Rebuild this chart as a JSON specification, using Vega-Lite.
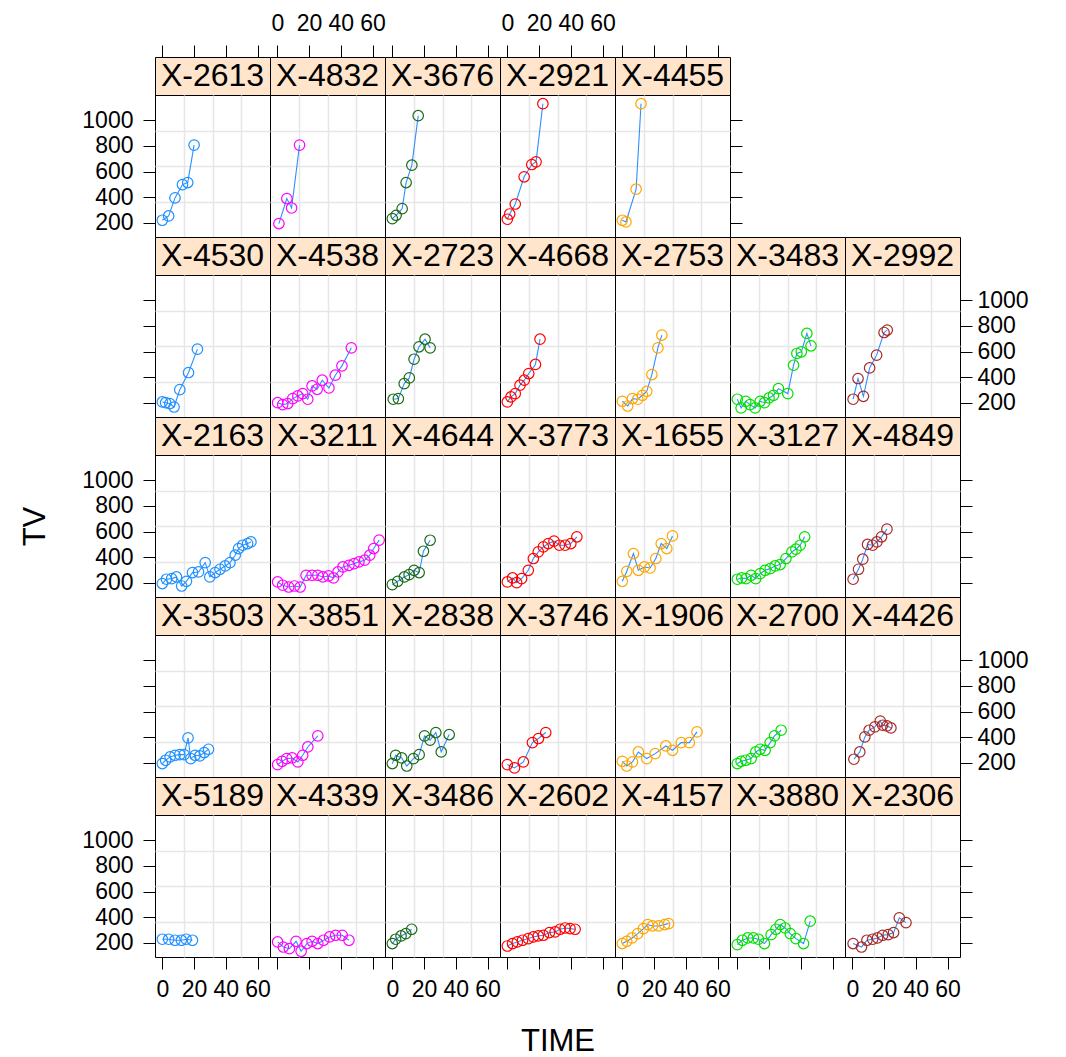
{
"$schema":"https://vega.github.io/schema/vega-lite/v6.json",
"padding":{"left":19,"top":11,"right":5,"bottom":0},
"background":"white",
"data":{"values":[
{"id":"X-2613","t":0,"tv":219},{"id":"X-2613","t":4,"tv":253},{"id":"X-2613","t":8,"tv":394},{"id":"X-2613","t":12.7,"tv":498},{"id":"X-2613","t":16,"tv":514},{"id":"X-2613","t":20,"tv":807},
{"id":"X-4832","t":1,"tv":193},{"id":"X-4832","t":6,"tv":389},{"id":"X-4832","t":9,"tv":315},{"id":"X-4832","t":14,"tv":807},
{"id":"X-3676","t":0,"tv":232},{"id":"X-3676","t":2.4,"tv":258},{"id":"X-3676","t":6.2,"tv":310},{"id":"X-3676","t":8.7,"tv":514},{"id":"X-3676","t":12.3,"tv":650},{"id":"X-3676","t":16.3,"tv":1037},
{"id":"X-2921","t":0,"tv":227},{"id":"X-2921","t":1.5,"tv":268},{"id":"X-2921","t":5,"tv":346},{"id":"X-2921","t":10.6,"tv":559},{"id":"X-2921","t":15.4,"tv":655},{"id":"X-2921","t":18.1,"tv":676},{"id":"X-2921","t":22.4,"tv":1131},
{"id":"X-4455","t":0,"tv":219},{"id":"X-4455","t":2.3,"tv":206},{"id":"X-4455","t":8.7,"tv":462},{"id":"X-4455","t":11.8,"tv":1131},
{"id":"X-4530","t":0,"tv":206},{"id":"X-4530","t":2.1,"tv":200},{"id":"X-4530","t":4.7,"tv":193},{"id":"X-4530","t":7.4,"tv":166},{"id":"X-4530","t":11,"tv":302},{"id":"X-4530","t":16.5,"tv":436},{"id":"X-4530","t":22.1,"tv":619},
{"id":"X-4538","t":0.2,"tv":200},{"id":"X-4538","t":3.4,"tv":185},{"id":"X-4538","t":6.6,"tv":193},{"id":"X-4538","t":9.7,"tv":232},{"id":"X-4538","t":12.9,"tv":253},{"id":"X-4538","t":16,"tv":271},{"id":"X-4538","t":19.2,"tv":227},{"id":"X-4538","t":21.9,"tv":331},{"id":"X-4538","t":25.1,"tv":305},{"id":"X-4538","t":28.3,"tv":376},{"id":"X-4538","t":32.5,"tv":315},{"id":"X-4538","t":36.5,"tv":415},{"id":"X-4538","t":40.7,"tv":488},{"id":"X-4538","t":46.6,"tv":629},
{"id":"X-2723","t":0.6,"tv":227},{"id":"X-2723","t":3.8,"tv":232},{"id":"X-2723","t":7.5,"tv":349},{"id":"X-2723","t":10.7,"tv":394},{"id":"X-2723","t":13.7,"tv":540},{"id":"X-2723","t":16.8,"tv":637},{"id":"X-2723","t":20.6,"tv":697},{"id":"X-2723","t":23.8,"tv":629},
{"id":"X-4668","t":0,"tv":206},{"id":"X-4668","t":2.3,"tv":245},{"id":"X-4668","t":5,"tv":271},{"id":"X-4668","t":8,"tv":337},{"id":"X-4668","t":10.7,"tv":376},{"id":"X-4668","t":13.5,"tv":428},{"id":"X-4668","t":17.7,"tv":499},{"id":"X-4668","t":20.6,"tv":697},
{"id":"X-2753","t":0,"tv":211},{"id":"X-2753","t":3.4,"tv":174},{"id":"X-2753","t":6.4,"tv":232},{"id":"X-2753","t":9.7,"tv":227},{"id":"X-2753","t":12.7,"tv":258},{"id":"X-2753","t":15.4,"tv":289},{"id":"X-2753","t":18.6,"tv":420},{"id":"X-2753","t":22.4,"tv":629},{"id":"X-2753","t":24.9,"tv":729},
{"id":"X-3483","t":0,"tv":227},{"id":"X-3483","t":2.4,"tv":159},{"id":"X-3483","t":5.3,"tv":211},{"id":"X-3483","t":8,"tv":185},{"id":"X-3483","t":11.2,"tv":159},{"id":"X-3483","t":14.4,"tv":211},{"id":"X-3483","t":17.1,"tv":200},{"id":"X-3483","t":20,"tv":237},{"id":"X-3483","t":22.8,"tv":258},{"id":"X-3483","t":25.9,"tv":310},{"id":"X-3483","t":31.8,"tv":271},{"id":"X-3483","t":35.4,"tv":493},{"id":"X-3483","t":37.5,"tv":585},{"id":"X-3483","t":40.3,"tv":598},{"id":"X-3483","t":43.8,"tv":742},{"id":"X-3483","t":46.4,"tv":645},
{"id":"X-2992","t":0.5,"tv":227},{"id":"X-2992","t":3.6,"tv":389},{"id":"X-2992","t":7,"tv":250},{"id":"X-2992","t":10.9,"tv":472},{"id":"X-2992","t":15.3,"tv":572},{"id":"X-2992","t":20,"tv":749},{"id":"X-2992","t":22,"tv":768},
{"id":"X-2163","t":0,"tv":193},{"id":"X-2163","t":2.6,"tv":227},{"id":"X-2163","t":5.9,"tv":232},{"id":"X-2163","t":8.9,"tv":245},{"id":"X-2163","t":12.2,"tv":174},{"id":"X-2163","t":15.2,"tv":211},{"id":"X-2163","t":19,"tv":279},{"id":"X-2163","t":22.8,"tv":284},{"id":"X-2163","t":27,"tv":357},{"id":"X-2163","t":29.9,"tv":245},{"id":"X-2163","t":33.3,"tv":279},{"id":"X-2163","t":36.3,"tv":305},{"id":"X-2163","t":39.6,"tv":331},{"id":"X-2163","t":42.6,"tv":357},{"id":"X-2163","t":45.9,"tv":415},{"id":"X-2163","t":48,"tv":467},{"id":"X-2163","t":50.6,"tv":493},{"id":"X-2163","t":53.7,"tv":506},{"id":"X-2163","t":55.8,"tv":519},
{"id":"X-3211","t":0.2,"tv":206},{"id":"X-3211","t":3.4,"tv":180},{"id":"X-3211","t":7.2,"tv":166},{"id":"X-3211","t":10.8,"tv":174},{"id":"X-3211","t":14.4,"tv":166},{"id":"X-3211","t":18.1,"tv":258},{"id":"X-3211","t":21.9,"tv":258},{"id":"X-3211","t":25.5,"tv":258},{"id":"X-3211","t":28.7,"tv":245},{"id":"X-3211","t":32.3,"tv":253},{"id":"X-3211","t":35.4,"tv":237},{"id":"X-3211","t":38.2,"tv":284},{"id":"X-3211","t":41.3,"tv":323},{"id":"X-3211","t":45.1,"tv":336},{"id":"X-3211","t":48.3,"tv":349},{"id":"X-3211","t":51.4,"tv":363},{"id":"X-3211","t":55,"tv":376},{"id":"X-3211","t":58.2,"tv":415},{"id":"X-3211","t":60.7,"tv":467},{"id":"X-3211","t":64.1,"tv":533},
{"id":"X-4644","t":0,"tv":185},{"id":"X-4644","t":3.4,"tv":211},{"id":"X-4644","t":7.6,"tv":245},{"id":"X-4644","t":10.6,"tv":263},{"id":"X-4644","t":13.7,"tv":297},{"id":"X-4644","t":16.9,"tv":279},{"id":"X-4644","t":19.6,"tv":446},{"id":"X-4644","t":23.8,"tv":532},
{"id":"X-3773","t":0,"tv":206},{"id":"X-3773","t":3.3,"tv":237},{"id":"X-3773","t":5.9,"tv":200},{"id":"X-3773","t":9,"tv":232},{"id":"X-3773","t":13.2,"tv":297},{"id":"X-3773","t":16.4,"tv":389},{"id":"X-3773","t":19.5,"tv":441},{"id":"X-3773","t":22.7,"tv":480},{"id":"X-3773","t":25.8,"tv":506},{"id":"X-3773","t":29.4,"tv":525},{"id":"X-3773","t":32.8,"tv":493},{"id":"X-3773","t":36.4,"tv":493},{"id":"X-3773","t":40,"tv":506},{"id":"X-3773","t":43.8,"tv":559},
{"id":"X-1655","t":0,"tv":211},{"id":"X-1655","t":2.8,"tv":289},{"id":"X-1655","t":7,"tv":428},{"id":"X-1655","t":10.1,"tv":297},{"id":"X-1655","t":13.9,"tv":323},{"id":"X-1655","t":17.5,"tv":315},{"id":"X-1655","t":21.1,"tv":389},{"id":"X-1655","t":24.5,"tv":506},{"id":"X-1655","t":28,"tv":467},{"id":"X-1655","t":31.6,"tv":566},
{"id":"X-3127","t":0,"tv":227},{"id":"X-3127","t":2.8,"tv":237},{"id":"X-3127","t":5.5,"tv":232},{"id":"X-3127","t":8.7,"tv":258},{"id":"X-3127","t":11.6,"tv":232},{"id":"X-3127","t":14.4,"tv":271},{"id":"X-3127","t":17.5,"tv":297},{"id":"X-3127","t":20.7,"tv":310},{"id":"X-3127","t":23.8,"tv":331},{"id":"X-3127","t":27,"tv":342},{"id":"X-3127","t":30.6,"tv":389},{"id":"X-3127","t":34.4,"tv":441},{"id":"X-3127","t":36.9,"tv":462},{"id":"X-3127","t":39.6,"tv":493},{"id":"X-3127","t":42.4,"tv":559},
{"id":"X-4849","t":0.5,"tv":227},{"id":"X-4849","t":3.9,"tv":305},{"id":"X-4849","t":6.6,"tv":384},{"id":"X-4849","t":9.6,"tv":499},{"id":"X-4849","t":12.8,"tv":493},{"id":"X-4849","t":15.5,"tv":519},{"id":"X-4849","t":18.4,"tv":559},{"id":"X-4849","t":21.8,"tv":619},
{"id":"X-3503","t":0,"tv":193},{"id":"X-3503","t":2.1,"tv":219},{"id":"X-3503","t":4.9,"tv":245},{"id":"X-3503","t":8,"tv":258},{"id":"X-3503","t":11,"tv":263},{"id":"X-3503","t":13.7,"tv":263},{"id":"X-3503","t":16.2,"tv":394},{"id":"X-3503","t":17.9,"tv":232},{"id":"X-3503","t":20.7,"tv":258},{"id":"X-3503","t":23.6,"tv":253},{"id":"X-3503","t":26.4,"tv":279},{"id":"X-3503","t":29.1,"tv":305},
{"id":"X-3851","t":0.2,"tv":185},{"id":"X-3851","t":3,"tv":211},{"id":"X-3851","t":5.9,"tv":232},{"id":"X-3851","t":9.3,"tv":237},{"id":"X-3851","t":12.9,"tv":206},{"id":"X-3851","t":16,"tv":258},{"id":"X-3851","t":19.2,"tv":323},{"id":"X-3851","t":25.5,"tv":410},
{"id":"X-2838","t":0,"tv":193},{"id":"X-2838","t":2.1,"tv":258},{"id":"X-2838","t":5.9,"tv":237},{"id":"X-2838","t":9.1,"tv":174},{"id":"X-2838","t":13.3,"tv":232},{"id":"X-2838","t":16.9,"tv":263},{"id":"X-2838","t":20.3,"tv":410},{"id":"X-2838","t":23.8,"tv":376},{"id":"X-2838","t":27.4,"tv":436},{"id":"X-2838","t":30.8,"tv":284},{"id":"X-2838","t":35.8,"tv":420},
{"id":"X-3746","t":0,"tv":185},{"id":"X-3746","t":4.5,"tv":159},{"id":"X-3746","t":10.1,"tv":206},{"id":"X-3746","t":15.8,"tv":357},{"id":"X-3746","t":19.6,"tv":389},{"id":"X-3746","t":24.2,"tv":436},
{"id":"X-1906","t":0,"tv":211},{"id":"X-1906","t":2.8,"tv":174},{"id":"X-1906","t":6.4,"tv":206},{"id":"X-1906","t":10.1,"tv":284},{"id":"X-1906","t":15.4,"tv":232},{"id":"X-1906","t":20.7,"tv":271},{"id":"X-1906","t":27.4,"tv":331},{"id":"X-1906","t":31.6,"tv":297},{"id":"X-1906","t":37.1,"tv":357},{"id":"X-1906","t":42.2,"tv":357},{"id":"X-1906","t":47,"tv":441},
{"id":"X-2700","t":0,"tv":193},{"id":"X-2700","t":2.4,"tv":211},{"id":"X-2700","t":5.3,"tv":219},{"id":"X-2700","t":8.7,"tv":232},{"id":"X-2700","t":11.6,"tv":284},{"id":"X-2700","t":14.4,"tv":305},{"id":"X-2700","t":17.5,"tv":297},{"id":"X-2700","t":20.7,"tv":357},{"id":"X-2700","t":23.4,"tv":410},{"id":"X-2700","t":27.6,"tv":454},
{"id":"X-4426","t":1,"tv":227},{"id":"X-4426","t":4.7,"tv":284},{"id":"X-4426","t":7.9,"tv":402},{"id":"X-4426","t":10.6,"tv":454},{"id":"X-4426","t":14.2,"tv":480},{"id":"X-4426","t":17.6,"tv":525},{"id":"X-4426","t":19.1,"tv":493},{"id":"X-4426","t":21.8,"tv":488},{"id":"X-4426","t":24.3,"tv":472},
{"id":"X-5189","t":0,"tv":227},{"id":"X-5189","t":4,"tv":227},{"id":"X-5189","t":8,"tv":219},{"id":"X-5189","t":12,"tv":219},{"id":"X-5189","t":15,"tv":227},{"id":"X-5189","t":19,"tv":219},
{"id":"X-4339","t":0.2,"tv":206},{"id":"X-4339","t":3.8,"tv":166},{"id":"X-4339","t":7.6,"tv":153},{"id":"X-4339","t":11.8,"tv":211},{"id":"X-4339","t":15,"tv":133},{"id":"X-4339","t":18.6,"tv":193},{"id":"X-4339","t":21.9,"tv":211},{"id":"X-4339","t":25.5,"tv":193},{"id":"X-4339","t":29.1,"tv":219},{"id":"X-4339","t":32.9,"tv":245},{"id":"X-4339","t":36.7,"tv":258},{"id":"X-4339","t":40.9,"tv":258},{"id":"X-4339","t":45.1,"tv":219},
{"id":"X-3486","t":0,"tv":193},{"id":"X-3486","t":2.1,"tv":227},{"id":"X-3486","t":5.5,"tv":253},{"id":"X-3486","t":8.5,"tv":271},{"id":"X-3486","t":12.2,"tv":305},
{"id":"X-2602","t":0,"tv":174},{"id":"X-2602","t":3.3,"tv":193},{"id":"X-2602","t":6.3,"tv":206},{"id":"X-2602","t":9.6,"tv":219},{"id":"X-2602","t":13.2,"tv":232},{"id":"X-2602","t":16.4,"tv":245},{"id":"X-2602","t":19.5,"tv":253},{"id":"X-2602","t":22.7,"tv":258},{"id":"X-2602","t":26.5,"tv":279},{"id":"X-2602","t":30.1,"tv":284},{"id":"X-2602","t":33.2,"tv":305},{"id":"X-2602","t":36.4,"tv":315},{"id":"X-2602","t":39.5,"tv":310},{"id":"X-2602","t":42.7,"tv":305},
{"id":"X-4157","t":0,"tv":193},{"id":"X-4157","t":2.8,"tv":211},{"id":"X-4157","t":6.1,"tv":237},{"id":"X-4157","t":9.7,"tv":271},{"id":"X-4157","t":13.3,"tv":310},{"id":"X-4157","t":16,"tv":342},{"id":"X-4157","t":19,"tv":331},{"id":"X-4157","t":22.8,"tv":331},{"id":"X-4157","t":26.6,"tv":342},{"id":"X-4157","t":29.1,"tv":349},
{"id":"X-3880","t":0,"tv":185},{"id":"X-3880","t":3.2,"tv":219},{"id":"X-3880","t":6.6,"tv":237},{"id":"X-3880","t":10.1,"tv":237},{"id":"X-3880","t":13.3,"tv":227},{"id":"X-3880","t":17.1,"tv":193},{"id":"X-3880","t":21.3,"tv":263},{"id":"X-3880","t":24.3,"tv":305},{"id":"X-3880","t":27,"tv":342},{"id":"X-3880","t":30.1,"tv":315},{"id":"X-3880","t":33.3,"tv":271},{"id":"X-3880","t":36.9,"tv":232},{"id":"X-3880","t":41.7,"tv":193},{"id":"X-3880","t":45.9,"tv":368},
{"id":"X-2306","t":0.5,"tv":193},{"id":"X-2306","t":5.8,"tv":166},{"id":"X-2306","t":9.2,"tv":219},{"id":"X-2306","t":12.8,"tv":227},{"id":"X-2306","t":15.9,"tv":237},{"id":"X-2306","t":19.1,"tv":258},{"id":"X-2306","t":22.6,"tv":263},{"id":"X-2306","t":26,"tv":279},{"id":"X-2306","t":29.6,"tv":394},{"id":"X-2306","t":33.8,"tv":357}
]},
"columns":7,
"spacing":0,
"bounds":"flush",
"align":"each",
"concat":[
{"width":115,"height":38,"data":{"values":[{"label":"X-2613"}]},"mark":{"type":"text","fontSize":32},"encoding":{"text":{"field":"label"}},"view":{"fill":"#FFE5CC","stroke":"black"}},
{"width":115,"height":38,"data":{"values":[{"label":"X-4832"}]},"mark":{"type":"text","fontSize":32},"encoding":{"text":{"field":"label"}},"view":{"fill":"#FFE5CC","stroke":"black"}},
{"width":115,"height":38,"data":{"values":[{"label":"X-3676"}]},"mark":{"type":"text","fontSize":32},"encoding":{"text":{"field":"label"}},"view":{"fill":"#FFE5CC","stroke":"black"}},
{"width":115,"height":38,"data":{"values":[{"label":"X-2921"}]},"mark":{"type":"text","fontSize":32},"encoding":{"text":{"field":"label"}},"view":{"fill":"#FFE5CC","stroke":"black"}},
{"width":115,"height":38,"data":{"values":[{"label":"X-4455"}]},"mark":{"type":"text","fontSize":32},"encoding":{"text":{"field":"label"}},"view":{"fill":"#FFE5CC","stroke":"black"}},
{"width":115,"height":38,"data":{"values":[]},"mark":"point","encoding":{},"view":{"stroke":null}},
{"width":115,"height":38,"data":{"values":[]},"mark":"point","encoding":{},"view":{"stroke":null}},

{"width":115,"height":142,"transform":[{"filter":"datum.id=='X-2613'"}],"layer":[{"mark":{"type":"line","color":"#2F8FFF","strokeWidth":1.1},"encoding":{"x":{"field":"t","type":"quantitative","scale":{"domain":[-4.6,67.8],"nice":false,"zero":false},"axis":{"orient":"bottom","values":[13.5,31.6,49.7],"grid":true,"labels":false,"ticks":false,"title":null}},"y":{"field":"tv","type":"quantitative","scale":{"domain":[88,1199],"nice":false,"zero":false},"axis":{"orient":"right","values":[365.75,643.5,921.25],"grid":true,"labels":false,"ticks":false,"title":null}}}},{"mark":{"type":"point","filled":false,"size":110,"strokeWidth":1.2,"color":"#1E90FF","opacity":1},"encoding":{"x":{"field":"t","type":"quantitative","axis":{"orient":"top","values":[0,20,40,60],"offset":38,"grid":false,"title":null,"labels":false}},"y":{"field":"tv","type":"quantitative","axis":{"orient":"left","values":[200,400,600,800,1000],"grid":false,"title":null}}}}],"resolve":{"axis":{"x":"independent","y":"independent"}}},
{"width":115,"height":142,"transform":[{"filter":"datum.id=='X-4832'"}],"layer":[{"mark":{"type":"line","color":"#2F8FFF","strokeWidth":1.1},"encoding":{"x":{"field":"t","type":"quantitative","scale":{"domain":[-4.6,67.8],"nice":false,"zero":false},"axis":{"orient":"bottom","values":[13.5,31.6,49.7],"grid":true,"labels":false,"ticks":false,"title":null}},"y":{"field":"tv","type":"quantitative","scale":{"domain":[88,1199],"nice":false,"zero":false},"axis":{"orient":"left","values":[365.75,643.5,921.25],"grid":true,"labels":false,"ticks":false,"title":null}}}},{"mark":{"type":"point","filled":false,"size":110,"strokeWidth":1.2,"color":"#FF00FF","opacity":1},"encoding":{"x":{"field":"t","type":"quantitative","axis":{"orient":"top","values":[0,20,40,60],"offset":38,"grid":false,"title":null,"labelPadding":10}},"y":{"field":"tv","type":"quantitative","axis":null}}}],"resolve":{"axis":{"x":"independent","y":"independent"}}},
{"width":115,"height":142,"transform":[{"filter":"datum.id=='X-3676'"}],"layer":[{"mark":{"type":"line","color":"#2F8FFF","strokeWidth":1.1},"encoding":{"x":{"field":"t","type":"quantitative","scale":{"domain":[-4.6,67.8],"nice":false,"zero":false},"axis":{"orient":"bottom","values":[13.5,31.6,49.7],"grid":true,"labels":false,"ticks":false,"title":null}},"y":{"field":"tv","type":"quantitative","scale":{"domain":[88,1199],"nice":false,"zero":false},"axis":{"orient":"left","values":[365.75,643.5,921.25],"grid":true,"labels":false,"ticks":false,"title":null}}}},{"mark":{"type":"point","filled":false,"size":110,"strokeWidth":1.2,"color":"#1A6B1A","opacity":1},"encoding":{"x":{"field":"t","type":"quantitative","axis":{"orient":"top","values":[0,20,40,60],"offset":38,"grid":false,"title":null,"labels":false}},"y":{"field":"tv","type":"quantitative","axis":null}}}],"resolve":{"axis":{"x":"independent","y":"independent"}}},
{"width":115,"height":142,"transform":[{"filter":"datum.id=='X-2921'"}],"layer":[{"mark":{"type":"line","color":"#2F8FFF","strokeWidth":1.1},"encoding":{"x":{"field":"t","type":"quantitative","scale":{"domain":[-4.6,67.8],"nice":false,"zero":false},"axis":{"orient":"bottom","values":[13.5,31.6,49.7],"grid":true,"labels":false,"ticks":false,"title":null}},"y":{"field":"tv","type":"quantitative","scale":{"domain":[88,1199],"nice":false,"zero":false},"axis":{"orient":"left","values":[365.75,643.5,921.25],"grid":true,"labels":false,"ticks":false,"title":null}}}},{"mark":{"type":"point","filled":false,"size":110,"strokeWidth":1.2,"color":"#FF0000","opacity":1},"encoding":{"x":{"field":"t","type":"quantitative","axis":{"orient":"top","values":[0,20,40,60],"offset":38,"grid":false,"title":null,"labelPadding":10}},"y":{"field":"tv","type":"quantitative","axis":null}}}],"resolve":{"axis":{"x":"independent","y":"independent"}}},
{"width":115,"height":142,"transform":[{"filter":"datum.id=='X-4455'"}],"layer":[{"mark":{"type":"line","color":"#2F8FFF","strokeWidth":1.1},"encoding":{"x":{"field":"t","type":"quantitative","scale":{"domain":[-4.6,67.8],"nice":false,"zero":false},"axis":{"orient":"bottom","values":[13.5,31.6,49.7],"grid":true,"labels":false,"ticks":false,"title":null}},"y":{"field":"tv","type":"quantitative","scale":{"domain":[88,1199],"nice":false,"zero":false},"axis":{"orient":"left","values":[365.75,643.5,921.25],"grid":true,"labels":false,"ticks":false,"title":null}}}},{"mark":{"type":"point","filled":false,"size":110,"strokeWidth":1.2,"color":"#FFA500","opacity":1},"encoding":{"x":{"field":"t","type":"quantitative","axis":{"orient":"top","values":[0,20,40,60],"offset":38,"grid":false,"title":null,"labels":false}},"y":{"field":"tv","type":"quantitative","axis":{"orient":"right","values":[200,400,600,800,1000],"grid":false,"title":null,"labels":false}}}}],"resolve":{"axis":{"x":"independent","y":"independent"}}},
{"width":115,"height":142,"data":{"values":[]},"mark":"point","encoding":{},"view":{"stroke":null}},
{"width":115,"height":142,"data":{"values":[]},"mark":"point","encoding":{},"view":{"stroke":null}},

{"width":115,"height":38,"data":{"values":[{"label":"X-4530"}]},"mark":{"type":"text","fontSize":32},"encoding":{"text":{"field":"label"}},"view":{"fill":"#FFE5CC","stroke":"black"}},
{"width":115,"height":38,"data":{"values":[{"label":"X-4538"}]},"mark":{"type":"text","fontSize":32},"encoding":{"text":{"field":"label"}},"view":{"fill":"#FFE5CC","stroke":"black"}},
{"width":115,"height":38,"data":{"values":[{"label":"X-2723"}]},"mark":{"type":"text","fontSize":32},"encoding":{"text":{"field":"label"}},"view":{"fill":"#FFE5CC","stroke":"black"}},
{"width":115,"height":38,"data":{"values":[{"label":"X-4668"}]},"mark":{"type":"text","fontSize":32},"encoding":{"text":{"field":"label"}},"view":{"fill":"#FFE5CC","stroke":"black"}},
{"width":115,"height":38,"data":{"values":[{"label":"X-2753"}]},"mark":{"type":"text","fontSize":32},"encoding":{"text":{"field":"label"}},"view":{"fill":"#FFE5CC","stroke":"black"}},
{"width":115,"height":38,"data":{"values":[{"label":"X-3483"}]},"mark":{"type":"text","fontSize":32},"encoding":{"text":{"field":"label"}},"view":{"fill":"#FFE5CC","stroke":"black"}},
{"width":115,"height":38,"data":{"values":[{"label":"X-2992"}]},"mark":{"type":"text","fontSize":32},"encoding":{"text":{"field":"label"}},"view":{"fill":"#FFE5CC","stroke":"black"}},

{"width":115,"height":142,"transform":[{"filter":"datum.id=='X-4530'"}],"layer":[{"mark":{"type":"line","color":"#2F8FFF","strokeWidth":1.1},"encoding":{"x":{"field":"t","type":"quantitative","scale":{"domain":[-4.6,67.8],"nice":false,"zero":false},"axis":{"orient":"bottom","values":[13.5,31.6,49.7],"grid":true,"labels":false,"ticks":false,"title":null}},"y":{"field":"tv","type":"quantitative","scale":{"domain":[88,1199],"nice":false,"zero":false},"axis":{"orient":"right","values":[365.75,643.5,921.25],"grid":true,"labels":false,"ticks":false,"title":null}}}},{"mark":{"type":"point","filled":false,"size":110,"strokeWidth":1.2,"color":"#1E90FF","opacity":1},"encoding":{"x":{"field":"t","type":"quantitative","axis":null},"y":{"field":"tv","type":"quantitative","axis":{"orient":"left","values":[200,400,600,800,1000],"grid":false,"title":null,"labels":false}}}}],"resolve":{"axis":{"x":"independent","y":"independent"}}},
{"width":115,"height":142,"transform":[{"filter":"datum.id=='X-4538'"}],"layer":[{"mark":{"type":"line","color":"#2F8FFF","strokeWidth":1.1},"encoding":{"x":{"field":"t","type":"quantitative","scale":{"domain":[-4.6,67.8],"nice":false,"zero":false},"axis":{"orient":"bottom","values":[13.5,31.6,49.7],"grid":true,"labels":false,"ticks":false,"title":null}},"y":{"field":"tv","type":"quantitative","scale":{"domain":[88,1199],"nice":false,"zero":false},"axis":{"orient":"left","values":[365.75,643.5,921.25],"grid":true,"labels":false,"ticks":false,"title":null}}}},{"mark":{"type":"point","filled":false,"size":110,"strokeWidth":1.2,"color":"#FF00FF","opacity":1},"encoding":{"x":{"field":"t","type":"quantitative","axis":null},"y":{"field":"tv","type":"quantitative","axis":null}}}],"resolve":{"axis":{"x":"independent","y":"independent"}}},
{"width":115,"height":142,"transform":[{"filter":"datum.id=='X-2723'"}],"layer":[{"mark":{"type":"line","color":"#2F8FFF","strokeWidth":1.1},"encoding":{"x":{"field":"t","type":"quantitative","scale":{"domain":[-4.6,67.8],"nice":false,"zero":false},"axis":{"orient":"bottom","values":[13.5,31.6,49.7],"grid":true,"labels":false,"ticks":false,"title":null}},"y":{"field":"tv","type":"quantitative","scale":{"domain":[88,1199],"nice":false,"zero":false},"axis":{"orient":"left","values":[365.75,643.5,921.25],"grid":true,"labels":false,"ticks":false,"title":null}}}},{"mark":{"type":"point","filled":false,"size":110,"strokeWidth":1.2,"color":"#1A6B1A","opacity":1},"encoding":{"x":{"field":"t","type":"quantitative","axis":null},"y":{"field":"tv","type":"quantitative","axis":null}}}],"resolve":{"axis":{"x":"independent","y":"independent"}}},
{"width":115,"height":142,"transform":[{"filter":"datum.id=='X-4668'"}],"layer":[{"mark":{"type":"line","color":"#2F8FFF","strokeWidth":1.1},"encoding":{"x":{"field":"t","type":"quantitative","scale":{"domain":[-4.6,67.8],"nice":false,"zero":false},"axis":{"orient":"bottom","values":[13.5,31.6,49.7],"grid":true,"labels":false,"ticks":false,"title":null}},"y":{"field":"tv","type":"quantitative","scale":{"domain":[88,1199],"nice":false,"zero":false},"axis":{"orient":"left","values":[365.75,643.5,921.25],"grid":true,"labels":false,"ticks":false,"title":null}}}},{"mark":{"type":"point","filled":false,"size":110,"strokeWidth":1.2,"color":"#FF0000","opacity":1},"encoding":{"x":{"field":"t","type":"quantitative","axis":null},"y":{"field":"tv","type":"quantitative","axis":null}}}],"resolve":{"axis":{"x":"independent","y":"independent"}}},
{"width":115,"height":142,"transform":[{"filter":"datum.id=='X-2753'"}],"layer":[{"mark":{"type":"line","color":"#2F8FFF","strokeWidth":1.1},"encoding":{"x":{"field":"t","type":"quantitative","scale":{"domain":[-4.6,67.8],"nice":false,"zero":false},"axis":{"orient":"bottom","values":[13.5,31.6,49.7],"grid":true,"labels":false,"ticks":false,"title":null}},"y":{"field":"tv","type":"quantitative","scale":{"domain":[88,1199],"nice":false,"zero":false},"axis":{"orient":"left","values":[365.75,643.5,921.25],"grid":true,"labels":false,"ticks":false,"title":null}}}},{"mark":{"type":"point","filled":false,"size":110,"strokeWidth":1.2,"color":"#FFA500","opacity":1},"encoding":{"x":{"field":"t","type":"quantitative","axis":null},"y":{"field":"tv","type":"quantitative","axis":null}}}],"resolve":{"axis":{"x":"independent","y":"independent"}}},
{"width":115,"height":142,"transform":[{"filter":"datum.id=='X-3483'"}],"layer":[{"mark":{"type":"line","color":"#2F8FFF","strokeWidth":1.1},"encoding":{"x":{"field":"t","type":"quantitative","scale":{"domain":[-4.6,67.8],"nice":false,"zero":false},"axis":{"orient":"bottom","values":[13.5,31.6,49.7],"grid":true,"labels":false,"ticks":false,"title":null}},"y":{"field":"tv","type":"quantitative","scale":{"domain":[88,1199],"nice":false,"zero":false},"axis":{"orient":"left","values":[365.75,643.5,921.25],"grid":true,"labels":false,"ticks":false,"title":null}}}},{"mark":{"type":"point","filled":false,"size":110,"strokeWidth":1.2,"color":"#00E000","opacity":1},"encoding":{"x":{"field":"t","type":"quantitative","axis":null},"y":{"field":"tv","type":"quantitative","axis":null}}}],"resolve":{"axis":{"x":"independent","y":"independent"}}},
{"width":115,"height":142,"transform":[{"filter":"datum.id=='X-2992'"}],"layer":[{"mark":{"type":"line","color":"#2F8FFF","strokeWidth":1.1},"encoding":{"x":{"field":"t","type":"quantitative","scale":{"domain":[-4.6,67.8],"nice":false,"zero":false},"axis":{"orient":"bottom","values":[13.5,31.6,49.7],"grid":true,"labels":false,"ticks":false,"title":null}},"y":{"field":"tv","type":"quantitative","scale":{"domain":[88,1199],"nice":false,"zero":false},"axis":{"orient":"left","values":[365.75,643.5,921.25],"grid":true,"labels":false,"ticks":false,"title":null}}}},{"mark":{"type":"point","filled":false,"size":110,"strokeWidth":1.2,"color":"#A52A2A","opacity":1},"encoding":{"x":{"field":"t","type":"quantitative","axis":null},"y":{"field":"tv","type":"quantitative","axis":{"orient":"right","values":[200,400,600,800,1000],"grid":false,"title":null,"labelPadding":5}}}}],"resolve":{"axis":{"x":"independent","y":"independent"}}},

{"width":115,"height":38,"data":{"values":[{"label":"X-2163"}]},"mark":{"type":"text","fontSize":32},"encoding":{"text":{"field":"label"}},"view":{"fill":"#FFE5CC","stroke":"black"}},
{"width":115,"height":38,"data":{"values":[{"label":"X-3211"}]},"mark":{"type":"text","fontSize":32},"encoding":{"text":{"field":"label"}},"view":{"fill":"#FFE5CC","stroke":"black"}},
{"width":115,"height":38,"data":{"values":[{"label":"X-4644"}]},"mark":{"type":"text","fontSize":32},"encoding":{"text":{"field":"label"}},"view":{"fill":"#FFE5CC","stroke":"black"}},
{"width":115,"height":38,"data":{"values":[{"label":"X-3773"}]},"mark":{"type":"text","fontSize":32},"encoding":{"text":{"field":"label"}},"view":{"fill":"#FFE5CC","stroke":"black"}},
{"width":115,"height":38,"data":{"values":[{"label":"X-1655"}]},"mark":{"type":"text","fontSize":32},"encoding":{"text":{"field":"label"}},"view":{"fill":"#FFE5CC","stroke":"black"}},
{"width":115,"height":38,"data":{"values":[{"label":"X-3127"}]},"mark":{"type":"text","fontSize":32},"encoding":{"text":{"field":"label"}},"view":{"fill":"#FFE5CC","stroke":"black"}},
{"width":115,"height":38,"data":{"values":[{"label":"X-4849"}]},"mark":{"type":"text","fontSize":32},"encoding":{"text":{"field":"label"}},"view":{"fill":"#FFE5CC","stroke":"black"}},

{"width":115,"height":142,"transform":[{"filter":"datum.id=='X-2163'"}],"layer":[{"mark":{"type":"line","color":"#2F8FFF","strokeWidth":1.1},"encoding":{"x":{"field":"t","type":"quantitative","scale":{"domain":[-4.6,67.8],"nice":false,"zero":false},"axis":{"orient":"bottom","values":[13.5,31.6,49.7],"grid":true,"labels":false,"ticks":false,"title":null}},"y":{"field":"tv","type":"quantitative","scale":{"domain":[88,1199],"nice":false,"zero":false},"axis":{"orient":"right","values":[365.75,643.5,921.25],"grid":true,"labels":false,"ticks":false,"title":null}}}},{"mark":{"type":"point","filled":false,"size":110,"strokeWidth":1.2,"color":"#1E90FF","opacity":1},"encoding":{"x":{"field":"t","type":"quantitative","axis":null},"y":{"field":"tv","type":"quantitative","axis":{"orient":"left","values":[200,400,600,800,1000],"grid":false,"title":"TV","titlePadding":30}}}}],"resolve":{"axis":{"x":"independent","y":"independent"}}},
{"width":115,"height":142,"transform":[{"filter":"datum.id=='X-3211'"}],"layer":[{"mark":{"type":"line","color":"#2F8FFF","strokeWidth":1.1},"encoding":{"x":{"field":"t","type":"quantitative","scale":{"domain":[-4.6,67.8],"nice":false,"zero":false},"axis":{"orient":"bottom","values":[13.5,31.6,49.7],"grid":true,"labels":false,"ticks":false,"title":null}},"y":{"field":"tv","type":"quantitative","scale":{"domain":[88,1199],"nice":false,"zero":false},"axis":{"orient":"left","values":[365.75,643.5,921.25],"grid":true,"labels":false,"ticks":false,"title":null}}}},{"mark":{"type":"point","filled":false,"size":110,"strokeWidth":1.2,"color":"#FF00FF","opacity":1},"encoding":{"x":{"field":"t","type":"quantitative","axis":null},"y":{"field":"tv","type":"quantitative","axis":null}}}],"resolve":{"axis":{"x":"independent","y":"independent"}}},
{"width":115,"height":142,"transform":[{"filter":"datum.id=='X-4644'"}],"layer":[{"mark":{"type":"line","color":"#2F8FFF","strokeWidth":1.1},"encoding":{"x":{"field":"t","type":"quantitative","scale":{"domain":[-4.6,67.8],"nice":false,"zero":false},"axis":{"orient":"bottom","values":[13.5,31.6,49.7],"grid":true,"labels":false,"ticks":false,"title":null}},"y":{"field":"tv","type":"quantitative","scale":{"domain":[88,1199],"nice":false,"zero":false},"axis":{"orient":"left","values":[365.75,643.5,921.25],"grid":true,"labels":false,"ticks":false,"title":null}}}},{"mark":{"type":"point","filled":false,"size":110,"strokeWidth":1.2,"color":"#1A6B1A","opacity":1},"encoding":{"x":{"field":"t","type":"quantitative","axis":null},"y":{"field":"tv","type":"quantitative","axis":null}}}],"resolve":{"axis":{"x":"independent","y":"independent"}}},
{"width":115,"height":142,"transform":[{"filter":"datum.id=='X-3773'"}],"layer":[{"mark":{"type":"line","color":"#2F8FFF","strokeWidth":1.1},"encoding":{"x":{"field":"t","type":"quantitative","scale":{"domain":[-4.6,67.8],"nice":false,"zero":false},"axis":{"orient":"bottom","values":[13.5,31.6,49.7],"grid":true,"labels":false,"ticks":false,"title":null}},"y":{"field":"tv","type":"quantitative","scale":{"domain":[88,1199],"nice":false,"zero":false},"axis":{"orient":"left","values":[365.75,643.5,921.25],"grid":true,"labels":false,"ticks":false,"title":null}}}},{"mark":{"type":"point","filled":false,"size":110,"strokeWidth":1.2,"color":"#FF0000","opacity":1},"encoding":{"x":{"field":"t","type":"quantitative","axis":null},"y":{"field":"tv","type":"quantitative","axis":null}}}],"resolve":{"axis":{"x":"independent","y":"independent"}}},
{"width":115,"height":142,"transform":[{"filter":"datum.id=='X-1655'"}],"layer":[{"mark":{"type":"line","color":"#2F8FFF","strokeWidth":1.1},"encoding":{"x":{"field":"t","type":"quantitative","scale":{"domain":[-4.6,67.8],"nice":false,"zero":false},"axis":{"orient":"bottom","values":[13.5,31.6,49.7],"grid":true,"labels":false,"ticks":false,"title":null}},"y":{"field":"tv","type":"quantitative","scale":{"domain":[88,1199],"nice":false,"zero":false},"axis":{"orient":"left","values":[365.75,643.5,921.25],"grid":true,"labels":false,"ticks":false,"title":null}}}},{"mark":{"type":"point","filled":false,"size":110,"strokeWidth":1.2,"color":"#FFA500","opacity":1},"encoding":{"x":{"field":"t","type":"quantitative","axis":null},"y":{"field":"tv","type":"quantitative","axis":null}}}],"resolve":{"axis":{"x":"independent","y":"independent"}}},
{"width":115,"height":142,"transform":[{"filter":"datum.id=='X-3127'"}],"layer":[{"mark":{"type":"line","color":"#2F8FFF","strokeWidth":1.1},"encoding":{"x":{"field":"t","type":"quantitative","scale":{"domain":[-4.6,67.8],"nice":false,"zero":false},"axis":{"orient":"bottom","values":[13.5,31.6,49.7],"grid":true,"labels":false,"ticks":false,"title":null}},"y":{"field":"tv","type":"quantitative","scale":{"domain":[88,1199],"nice":false,"zero":false},"axis":{"orient":"left","values":[365.75,643.5,921.25],"grid":true,"labels":false,"ticks":false,"title":null}}}},{"mark":{"type":"point","filled":false,"size":110,"strokeWidth":1.2,"color":"#00E000","opacity":1},"encoding":{"x":{"field":"t","type":"quantitative","axis":null},"y":{"field":"tv","type":"quantitative","axis":null}}}],"resolve":{"axis":{"x":"independent","y":"independent"}}},
{"width":115,"height":142,"transform":[{"filter":"datum.id=='X-4849'"}],"layer":[{"mark":{"type":"line","color":"#2F8FFF","strokeWidth":1.1},"encoding":{"x":{"field":"t","type":"quantitative","scale":{"domain":[-4.6,67.8],"nice":false,"zero":false},"axis":{"orient":"bottom","values":[13.5,31.6,49.7],"grid":true,"labels":false,"ticks":false,"title":null}},"y":{"field":"tv","type":"quantitative","scale":{"domain":[88,1199],"nice":false,"zero":false},"axis":{"orient":"left","values":[365.75,643.5,921.25],"grid":true,"labels":false,"ticks":false,"title":null}}}},{"mark":{"type":"point","filled":false,"size":110,"strokeWidth":1.2,"color":"#A52A2A","opacity":1},"encoding":{"x":{"field":"t","type":"quantitative","axis":null},"y":{"field":"tv","type":"quantitative","axis":{"orient":"right","values":[200,400,600,800,1000],"grid":false,"title":null,"labels":false}}}}],"resolve":{"axis":{"x":"independent","y":"independent"}}},

{"width":115,"height":38,"data":{"values":[{"label":"X-3503"}]},"mark":{"type":"text","fontSize":32},"encoding":{"text":{"field":"label"}},"view":{"fill":"#FFE5CC","stroke":"black"}},
{"width":115,"height":38,"data":{"values":[{"label":"X-3851"}]},"mark":{"type":"text","fontSize":32},"encoding":{"text":{"field":"label"}},"view":{"fill":"#FFE5CC","stroke":"black"}},
{"width":115,"height":38,"data":{"values":[{"label":"X-2838"}]},"mark":{"type":"text","fontSize":32},"encoding":{"text":{"field":"label"}},"view":{"fill":"#FFE5CC","stroke":"black"}},
{"width":115,"height":38,"data":{"values":[{"label":"X-3746"}]},"mark":{"type":"text","fontSize":32},"encoding":{"text":{"field":"label"}},"view":{"fill":"#FFE5CC","stroke":"black"}},
{"width":115,"height":38,"data":{"values":[{"label":"X-1906"}]},"mark":{"type":"text","fontSize":32},"encoding":{"text":{"field":"label"}},"view":{"fill":"#FFE5CC","stroke":"black"}},
{"width":115,"height":38,"data":{"values":[{"label":"X-2700"}]},"mark":{"type":"text","fontSize":32},"encoding":{"text":{"field":"label"}},"view":{"fill":"#FFE5CC","stroke":"black"}},
{"width":115,"height":38,"data":{"values":[{"label":"X-4426"}]},"mark":{"type":"text","fontSize":32},"encoding":{"text":{"field":"label"}},"view":{"fill":"#FFE5CC","stroke":"black"}},

{"width":115,"height":142,"transform":[{"filter":"datum.id=='X-3503'"}],"layer":[{"mark":{"type":"line","color":"#2F8FFF","strokeWidth":1.1},"encoding":{"x":{"field":"t","type":"quantitative","scale":{"domain":[-4.6,67.8],"nice":false,"zero":false},"axis":{"orient":"bottom","values":[13.5,31.6,49.7],"grid":true,"labels":false,"ticks":false,"title":null}},"y":{"field":"tv","type":"quantitative","scale":{"domain":[88,1199],"nice":false,"zero":false},"axis":{"orient":"right","values":[365.75,643.5,921.25],"grid":true,"labels":false,"ticks":false,"title":null}}}},{"mark":{"type":"point","filled":false,"size":110,"strokeWidth":1.2,"color":"#1E90FF","opacity":1},"encoding":{"x":{"field":"t","type":"quantitative","axis":null},"y":{"field":"tv","type":"quantitative","axis":{"orient":"left","values":[200,400,600,800,1000],"grid":false,"title":null,"labels":false}}}}],"resolve":{"axis":{"x":"independent","y":"independent"}}},
{"width":115,"height":142,"transform":[{"filter":"datum.id=='X-3851'"}],"layer":[{"mark":{"type":"line","color":"#2F8FFF","strokeWidth":1.1},"encoding":{"x":{"field":"t","type":"quantitative","scale":{"domain":[-4.6,67.8],"nice":false,"zero":false},"axis":{"orient":"bottom","values":[13.5,31.6,49.7],"grid":true,"labels":false,"ticks":false,"title":null}},"y":{"field":"tv","type":"quantitative","scale":{"domain":[88,1199],"nice":false,"zero":false},"axis":{"orient":"left","values":[365.75,643.5,921.25],"grid":true,"labels":false,"ticks":false,"title":null}}}},{"mark":{"type":"point","filled":false,"size":110,"strokeWidth":1.2,"color":"#FF00FF","opacity":1},"encoding":{"x":{"field":"t","type":"quantitative","axis":null},"y":{"field":"tv","type":"quantitative","axis":null}}}],"resolve":{"axis":{"x":"independent","y":"independent"}}},
{"width":115,"height":142,"transform":[{"filter":"datum.id=='X-2838'"}],"layer":[{"mark":{"type":"line","color":"#2F8FFF","strokeWidth":1.1},"encoding":{"x":{"field":"t","type":"quantitative","scale":{"domain":[-4.6,67.8],"nice":false,"zero":false},"axis":{"orient":"bottom","values":[13.5,31.6,49.7],"grid":true,"labels":false,"ticks":false,"title":null}},"y":{"field":"tv","type":"quantitative","scale":{"domain":[88,1199],"nice":false,"zero":false},"axis":{"orient":"left","values":[365.75,643.5,921.25],"grid":true,"labels":false,"ticks":false,"title":null}}}},{"mark":{"type":"point","filled":false,"size":110,"strokeWidth":1.2,"color":"#1A6B1A","opacity":1},"encoding":{"x":{"field":"t","type":"quantitative","axis":null},"y":{"field":"tv","type":"quantitative","axis":null}}}],"resolve":{"axis":{"x":"independent","y":"independent"}}},
{"width":115,"height":142,"transform":[{"filter":"datum.id=='X-3746'"}],"layer":[{"mark":{"type":"line","color":"#2F8FFF","strokeWidth":1.1},"encoding":{"x":{"field":"t","type":"quantitative","scale":{"domain":[-4.6,67.8],"nice":false,"zero":false},"axis":{"orient":"bottom","values":[13.5,31.6,49.7],"grid":true,"labels":false,"ticks":false,"title":null}},"y":{"field":"tv","type":"quantitative","scale":{"domain":[88,1199],"nice":false,"zero":false},"axis":{"orient":"left","values":[365.75,643.5,921.25],"grid":true,"labels":false,"ticks":false,"title":null}}}},{"mark":{"type":"point","filled":false,"size":110,"strokeWidth":1.2,"color":"#FF0000","opacity":1},"encoding":{"x":{"field":"t","type":"quantitative","axis":null},"y":{"field":"tv","type":"quantitative","axis":null}}}],"resolve":{"axis":{"x":"independent","y":"independent"}}},
{"width":115,"height":142,"transform":[{"filter":"datum.id=='X-1906'"}],"layer":[{"mark":{"type":"line","color":"#2F8FFF","strokeWidth":1.1},"encoding":{"x":{"field":"t","type":"quantitative","scale":{"domain":[-4.6,67.8],"nice":false,"zero":false},"axis":{"orient":"bottom","values":[13.5,31.6,49.7],"grid":true,"labels":false,"ticks":false,"title":null}},"y":{"field":"tv","type":"quantitative","scale":{"domain":[88,1199],"nice":false,"zero":false},"axis":{"orient":"left","values":[365.75,643.5,921.25],"grid":true,"labels":false,"ticks":false,"title":null}}}},{"mark":{"type":"point","filled":false,"size":110,"strokeWidth":1.2,"color":"#FFA500","opacity":1},"encoding":{"x":{"field":"t","type":"quantitative","axis":null},"y":{"field":"tv","type":"quantitative","axis":null}}}],"resolve":{"axis":{"x":"independent","y":"independent"}}},
{"width":115,"height":142,"transform":[{"filter":"datum.id=='X-2700'"}],"layer":[{"mark":{"type":"line","color":"#2F8FFF","strokeWidth":1.1},"encoding":{"x":{"field":"t","type":"quantitative","scale":{"domain":[-4.6,67.8],"nice":false,"zero":false},"axis":{"orient":"bottom","values":[13.5,31.6,49.7],"grid":true,"labels":false,"ticks":false,"title":null}},"y":{"field":"tv","type":"quantitative","scale":{"domain":[88,1199],"nice":false,"zero":false},"axis":{"orient":"left","values":[365.75,643.5,921.25],"grid":true,"labels":false,"ticks":false,"title":null}}}},{"mark":{"type":"point","filled":false,"size":110,"strokeWidth":1.2,"color":"#00E000","opacity":1},"encoding":{"x":{"field":"t","type":"quantitative","axis":null},"y":{"field":"tv","type":"quantitative","axis":null}}}],"resolve":{"axis":{"x":"independent","y":"independent"}}},
{"width":115,"height":142,"transform":[{"filter":"datum.id=='X-4426'"}],"layer":[{"mark":{"type":"line","color":"#2F8FFF","strokeWidth":1.1},"encoding":{"x":{"field":"t","type":"quantitative","scale":{"domain":[-4.6,67.8],"nice":false,"zero":false},"axis":{"orient":"bottom","values":[13.5,31.6,49.7],"grid":true,"labels":false,"ticks":false,"title":null}},"y":{"field":"tv","type":"quantitative","scale":{"domain":[88,1199],"nice":false,"zero":false},"axis":{"orient":"left","values":[365.75,643.5,921.25],"grid":true,"labels":false,"ticks":false,"title":null}}}},{"mark":{"type":"point","filled":false,"size":110,"strokeWidth":1.2,"color":"#A52A2A","opacity":1},"encoding":{"x":{"field":"t","type":"quantitative","axis":null},"y":{"field":"tv","type":"quantitative","axis":{"orient":"right","values":[200,400,600,800,1000],"grid":false,"title":null,"labelPadding":5}}}}],"resolve":{"axis":{"x":"independent","y":"independent"}}},

{"width":115,"height":38,"data":{"values":[{"label":"X-5189"}]},"mark":{"type":"text","fontSize":32},"encoding":{"text":{"field":"label"}},"view":{"fill":"#FFE5CC","stroke":"black"}},
{"width":115,"height":38,"data":{"values":[{"label":"X-4339"}]},"mark":{"type":"text","fontSize":32},"encoding":{"text":{"field":"label"}},"view":{"fill":"#FFE5CC","stroke":"black"}},
{"width":115,"height":38,"data":{"values":[{"label":"X-3486"}]},"mark":{"type":"text","fontSize":32},"encoding":{"text":{"field":"label"}},"view":{"fill":"#FFE5CC","stroke":"black"}},
{"width":115,"height":38,"data":{"values":[{"label":"X-2602"}]},"mark":{"type":"text","fontSize":32},"encoding":{"text":{"field":"label"}},"view":{"fill":"#FFE5CC","stroke":"black"}},
{"width":115,"height":38,"data":{"values":[{"label":"X-4157"}]},"mark":{"type":"text","fontSize":32},"encoding":{"text":{"field":"label"}},"view":{"fill":"#FFE5CC","stroke":"black"}},
{"width":115,"height":38,"data":{"values":[{"label":"X-3880"}]},"mark":{"type":"text","fontSize":32},"encoding":{"text":{"field":"label"}},"view":{"fill":"#FFE5CC","stroke":"black"}},
{"width":115,"height":38,"data":{"values":[{"label":"X-2306"}]},"mark":{"type":"text","fontSize":32},"encoding":{"text":{"field":"label"}},"view":{"fill":"#FFE5CC","stroke":"black"}},

{"width":115,"height":142,"transform":[{"filter":"datum.id=='X-5189'"}],"layer":[{"mark":{"type":"line","color":"#2F8FFF","strokeWidth":1.1},"encoding":{"x":{"field":"t","type":"quantitative","scale":{"domain":[-4.6,67.8],"nice":false,"zero":false},"axis":{"orient":"top","values":[13.5,31.6,49.7],"grid":true,"labels":false,"ticks":false,"title":null}},"y":{"field":"tv","type":"quantitative","scale":{"domain":[88,1199],"nice":false,"zero":false},"axis":{"orient":"right","values":[365.75,643.5,921.25],"grid":true,"labels":false,"ticks":false,"title":null}}}},{"mark":{"type":"point","filled":false,"size":110,"strokeWidth":1.2,"color":"#1E90FF","opacity":1},"encoding":{"x":{"field":"t","type":"quantitative","axis":{"orient":"bottom","values":[0,20,40,60],"grid":false,"title":null}},"y":{"field":"tv","type":"quantitative","axis":{"orient":"left","values":[200,400,600,800,1000],"grid":false,"title":null}}}}],"resolve":{"axis":{"x":"independent","y":"independent"}}},
{"width":115,"height":142,"transform":[{"filter":"datum.id=='X-4339'"}],"layer":[{"mark":{"type":"line","color":"#2F8FFF","strokeWidth":1.1},"encoding":{"x":{"field":"t","type":"quantitative","scale":{"domain":[-4.6,67.8],"nice":false,"zero":false},"axis":{"orient":"top","values":[13.5,31.6,49.7],"grid":true,"labels":false,"ticks":false,"title":null}},"y":{"field":"tv","type":"quantitative","scale":{"domain":[88,1199],"nice":false,"zero":false},"axis":{"orient":"left","values":[365.75,643.5,921.25],"grid":true,"labels":false,"ticks":false,"title":null}}}},{"mark":{"type":"point","filled":false,"size":110,"strokeWidth":1.2,"color":"#FF00FF","opacity":1},"encoding":{"x":{"field":"t","type":"quantitative","axis":{"orient":"bottom","values":[0,20,40,60],"grid":false,"title":null,"labels":false}},"y":{"field":"tv","type":"quantitative","axis":null}}}],"resolve":{"axis":{"x":"independent","y":"independent"}}},
{"width":115,"height":142,"transform":[{"filter":"datum.id=='X-3486'"}],"layer":[{"mark":{"type":"line","color":"#2F8FFF","strokeWidth":1.1},"encoding":{"x":{"field":"t","type":"quantitative","scale":{"domain":[-4.6,67.8],"nice":false,"zero":false},"axis":{"orient":"top","values":[13.5,31.6,49.7],"grid":true,"labels":false,"ticks":false,"title":null}},"y":{"field":"tv","type":"quantitative","scale":{"domain":[88,1199],"nice":false,"zero":false},"axis":{"orient":"left","values":[365.75,643.5,921.25],"grid":true,"labels":false,"ticks":false,"title":null}}}},{"mark":{"type":"point","filled":false,"size":110,"strokeWidth":1.2,"color":"#1A6B1A","opacity":1},"encoding":{"x":{"field":"t","type":"quantitative","axis":{"orient":"bottom","values":[0,20,40,60],"grid":false,"title":null}},"y":{"field":"tv","type":"quantitative","axis":null}}}],"resolve":{"axis":{"x":"independent","y":"independent"}}},
{"width":115,"height":142,"transform":[{"filter":"datum.id=='X-2602'"}],"layer":[{"mark":{"type":"line","color":"#2F8FFF","strokeWidth":1.1},"encoding":{"x":{"field":"t","type":"quantitative","scale":{"domain":[-4.6,67.8],"nice":false,"zero":false},"axis":{"orient":"top","values":[13.5,31.6,49.7],"grid":true,"labels":false,"ticks":false,"title":null}},"y":{"field":"tv","type":"quantitative","scale":{"domain":[88,1199],"nice":false,"zero":false},"axis":{"orient":"left","values":[365.75,643.5,921.25],"grid":true,"labels":false,"ticks":false,"title":null}}}},{"mark":{"type":"point","filled":false,"size":110,"strokeWidth":1.2,"color":"#FF0000","opacity":1},"encoding":{"x":{"field":"t","type":"quantitative","axis":{"orient":"bottom","values":[0,20,40,60],"grid":false,"labels":false,"title":"TIME","titlePadding":57}},"y":{"field":"tv","type":"quantitative","axis":null}}}],"resolve":{"axis":{"x":"independent","y":"independent"}}},
{"width":115,"height":142,"transform":[{"filter":"datum.id=='X-4157'"}],"layer":[{"mark":{"type":"line","color":"#2F8FFF","strokeWidth":1.1},"encoding":{"x":{"field":"t","type":"quantitative","scale":{"domain":[-4.6,67.8],"nice":false,"zero":false},"axis":{"orient":"top","values":[13.5,31.6,49.7],"grid":true,"labels":false,"ticks":false,"title":null}},"y":{"field":"tv","type":"quantitative","scale":{"domain":[88,1199],"nice":false,"zero":false},"axis":{"orient":"left","values":[365.75,643.5,921.25],"grid":true,"labels":false,"ticks":false,"title":null}}}},{"mark":{"type":"point","filled":false,"size":110,"strokeWidth":1.2,"color":"#FFA500","opacity":1},"encoding":{"x":{"field":"t","type":"quantitative","axis":{"orient":"bottom","values":[0,20,40,60],"grid":false,"title":null}},"y":{"field":"tv","type":"quantitative","axis":null}}}],"resolve":{"axis":{"x":"independent","y":"independent"}}},
{"width":115,"height":142,"transform":[{"filter":"datum.id=='X-3880'"}],"layer":[{"mark":{"type":"line","color":"#2F8FFF","strokeWidth":1.1},"encoding":{"x":{"field":"t","type":"quantitative","scale":{"domain":[-4.6,67.8],"nice":false,"zero":false},"axis":{"orient":"top","values":[13.5,31.6,49.7],"grid":true,"labels":false,"ticks":false,"title":null}},"y":{"field":"tv","type":"quantitative","scale":{"domain":[88,1199],"nice":false,"zero":false},"axis":{"orient":"left","values":[365.75,643.5,921.25],"grid":true,"labels":false,"ticks":false,"title":null}}}},{"mark":{"type":"point","filled":false,"size":110,"strokeWidth":1.2,"color":"#00E000","opacity":1},"encoding":{"x":{"field":"t","type":"quantitative","axis":{"orient":"bottom","values":[0,20,40,60],"grid":false,"title":null,"labels":false}},"y":{"field":"tv","type":"quantitative","axis":null}}}],"resolve":{"axis":{"x":"independent","y":"independent"}}},
{"width":115,"height":142,"transform":[{"filter":"datum.id=='X-2306'"}],"layer":[{"mark":{"type":"line","color":"#2F8FFF","strokeWidth":1.1},"encoding":{"x":{"field":"t","type":"quantitative","scale":{"domain":[-4.6,67.8],"nice":false,"zero":false},"axis":{"orient":"top","values":[13.5,31.6,49.7],"grid":true,"labels":false,"ticks":false,"title":null}},"y":{"field":"tv","type":"quantitative","scale":{"domain":[88,1199],"nice":false,"zero":false},"axis":{"orient":"left","values":[365.75,643.5,921.25],"grid":true,"labels":false,"ticks":false,"title":null}}}},{"mark":{"type":"point","filled":false,"size":110,"strokeWidth":1.2,"color":"#A52A2A","opacity":1},"encoding":{"x":{"field":"t","type":"quantitative","axis":{"orient":"bottom","values":[0,20,40,60],"grid":false,"title":null}},"y":{"field":"tv","type":"quantitative","axis":{"orient":"right","values":[200,400,600,800,1000],"grid":false,"title":null,"labels":false}}}}],"resolve":{"axis":{"x":"independent","y":"independent"}}}
],
"config":{
"font":"Liberation Sans",
"numberFormat":"d",
"view":{"stroke":"black","strokeWidth":1},
"text":{"font":"Liberation Sans","color":"black","baseline":"middle","align":"center"},
"axis":{"domain":false,"tickColor":"black","tickWidth":1,"tickSize":12,"labelColor":"black","labelFont":"Liberation Sans","labelFontSize":23,"labelPadding":10,"labelFlush":false,"labelOverlap":false,"gridColor":"#E6E6E6","gridWidth":1.5,"titleFont":"Liberation Sans","titleFontSize":31,"titleFontWeight":"normal","titleColor":"black"},
"axisX":{"labelPadding":9}
}
}
